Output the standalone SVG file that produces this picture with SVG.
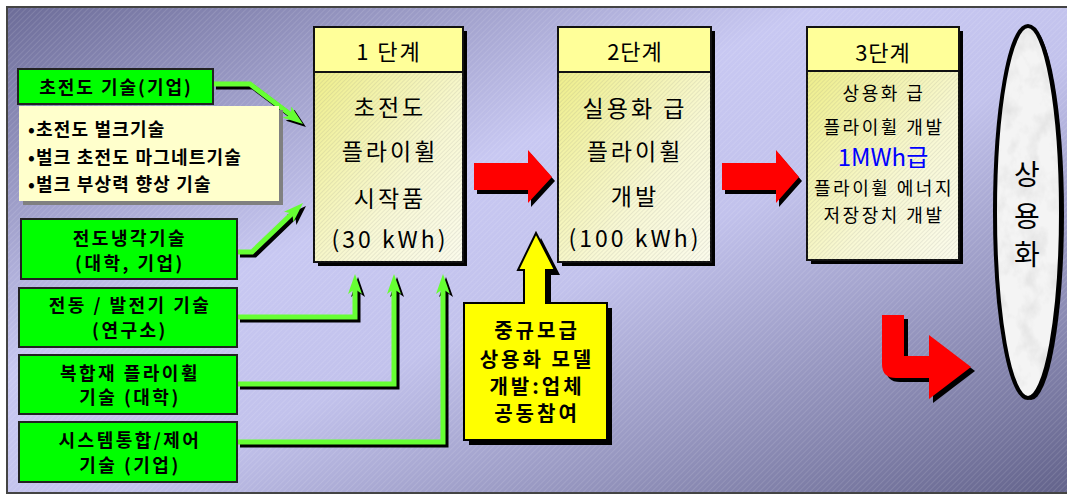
<svg xmlns="http://www.w3.org/2000/svg" width="1067" height="495" viewBox="0 0 1067 495">
<style>
text{font-family:"Noto Sans CJK KR","Noto Sans",sans-serif;fill:#000;text-anchor:middle}
.g{fill:#00ff00;stroke:#222;stroke-width:2}
.gt{font-size:18px;font-weight:bold;letter-spacing:2.5px}
.hd{fill:#ffff99;stroke:#111;stroke-width:2}
.bd{stroke:#111;stroke-width:2}
.sh{fill:#000}
.st{font-size:23px;letter-spacing:3px}
.s3{font-size:18px;letter-spacing:2.5px}
.bl{font-size:18px;font-weight:bold;letter-spacing:1.2px;text-anchor:start}
.yt{font-size:20px;font-weight:bold;letter-spacing:3px}
.cg{fill:none;stroke:#66ff33;stroke-width:5}
.ck{fill:none;stroke:#000;stroke-width:5}
.red{fill:#ff0000}
</style>
<defs>
<linearGradient id="bg" x1="0" y1="0" x2="1" y2="1">
<stop offset="0" stop-color="#6c6c98"/>
<stop offset="0.38" stop-color="#c8c8f2"/>
<stop offset="0.55" stop-color="#c2c2ec"/>
<stop offset="1" stop-color="#62628a"/>
</linearGradient>
<pattern id="stripe" width="4" height="4" patternUnits="userSpaceOnUse" patternTransform="rotate(45)">
<line x1="0" y1="0" x2="0" y2="4" stroke="#fff" stroke-width="1" opacity="0.22"/>
</pattern>
<linearGradient id="body" x1="0" y1="0" x2="1" y2="1">
<stop offset="0" stop-color="#eeee8a"/>
<stop offset="0.6" stop-color="#f8f8d4"/>
<stop offset="1" stop-color="#fbfbec"/>
</linearGradient>
<pattern id="hatch" width="3" height="3" patternUnits="userSpaceOnUse" patternTransform="rotate(45)">
<line x1="0" y1="0" x2="0" y2="3" stroke="#777" stroke-width="0.8" opacity="0.35"/>
</pattern>
<filter id="marble" x="0" y="0" width="1" height="1">
<feTurbulence type="fractalNoise" baseFrequency="0.05 0.035" numOctaves="4" seed="7" result="n"/>
<feColorMatrix in="n" type="matrix" values="0 0 0 0 0.65  0 0 0 0 0.65  0 0 0 0 0.65  1.4 0 0 0 -0.62"/>
<feComposite in2="SourceGraphic" operator="in"/>
</filter>
<marker id="ahG" viewBox="0 0 20 14" markerWidth="20" markerHeight="14" refX="6" refY="7" orient="auto" markerUnits="userSpaceOnUse">
<path d="M0,0 L20,7 L0,14 L5,7 Z" fill="#66ff33"/>
</marker>
<marker id="ahK" viewBox="0 0 20 14" markerWidth="20" markerHeight="14" refX="6" refY="7" orient="auto" markerUnits="userSpaceOnUse">
<path d="M0,0 L20,7 L0,14 L5,7 Z" fill="#000"/>
</marker>
</defs>

<g id="background">
<rect x="7" y="7" width="1070" height="486" fill="url(#bg)"/>
<rect x="7" y="7" width="1070" height="486" fill="url(#stripe)"/>
<rect x="7" y="7" width="1070" height="486" fill="none" stroke="#444" stroke-width="2"/>
</g>

<g id="connectors">
<g transform="translate(3,3)">
<path class="ck" d="M213,84 H250 L291.8,115.6" marker-end="url(#ahK)"/>
<path class="ck" d="M237,252 H252 L292.9,212.7" marker-end="url(#ahK)"/>
<path class="ck" d="M237,317 H355 V288" marker-end="url(#ahK)"/>
<path class="ck" d="M237,384 H394 V288" marker-end="url(#ahK)"/>
<path class="ck" d="M237,442 H443 V288" marker-end="url(#ahK)"/>
</g>
<path class="cg" d="M213,84 H250 L291.8,115.6" marker-end="url(#ahG)"/>
<path class="cg" d="M237,252 H252 L292.9,212.7" marker-end="url(#ahG)"/>
<path class="cg" d="M237,317 H355 V288" marker-end="url(#ahG)"/>
<path class="cg" d="M237,384 H394 V288" marker-end="url(#ahG)"/>
<path class="cg" d="M237,442 H443 V288" marker-end="url(#ahG)"/>
</g>

<g id="tech-superconductor">
<rect class="g" x="18" y="69" width="195" height="35"/>
<text x="116" y="94" style="font-size:18px;font-weight:bold;letter-spacing:2px">초전도 기술(기업)</text>
</g>

<g id="tech-details">
<rect x="23" y="110" width="260" height="95" fill="#808080"/>
<rect x="19" y="106" width="260" height="95" fill="#ffffcc"/>
<text class="bl" x="28" y="136">•초전도 벌크기술</text>
<text class="bl" x="28" y="164">•벌크 초전도 마그네트기술</text>
<text class="bl" x="28" y="191">•벌크 부상력 향상 기술</text>
</g>

<g id="tech-cooling">
<rect class="g" x="21" y="219" width="216" height="60"/>
<text class="gt" x="130" y="245">전도냉각기술</text>
<text class="gt" x="130" y="270">(대학, 기업)</text>
</g>

<g id="tech-motor">
<rect class="g" x="19" y="288" width="218" height="59"/>
<text class="gt" x="130" y="312">전동 / 발전기 기술</text>
<text class="gt" x="130" y="337">(연구소)</text>
</g>

<g id="tech-composite">
<rect class="g" x="19" y="355" width="218" height="59"/>
<text class="gt" x="130" y="380">복합재 플라이휠</text>
<text class="gt" x="130" y="404">기술 (대학)</text>
</g>

<g id="tech-system">
<rect class="g" x="19" y="422" width="218" height="60"/>
<text class="gt" x="130" y="447">시스템통합/제어</text>
<text class="gt" x="130" y="472">기술 (기업)</text>
</g>

<g id="stage1">
<rect class="sh" x="318" y="31" width="149" height="235"/>
<rect class="bd" x="314" y="72" width="149" height="190" fill="url(#body)"/>
<rect x="314" y="72" width="149" height="190" fill="url(#hatch)"/>
<rect class="hd" x="314" y="27" width="149" height="45"/>
<text x="389" y="60" style="font-size:22px;letter-spacing:2px">1 단계</text>
<text class="st" x="390" y="116">초전도</text>
<text class="st" x="390" y="160">플라이휠</text>
<text class="st" x="390" y="207">시작품</text>
<text class="st" x="390" y="248">(30 kWh)</text>
</g>

<g id="stage2">
<rect class="sh" x="562" y="31" width="153" height="235"/>
<rect class="bd" x="558" y="72" width="153" height="190" fill="url(#body)"/>
<rect x="558" y="72" width="153" height="190" fill="url(#hatch)"/>
<rect class="hd" x="558" y="27" width="153" height="45"/>
<text x="635" y="60" style="font-size:22px;letter-spacing:1px">2단계</text>
<text class="st" x="635" y="117">실용화 급</text>
<text class="st" x="635" y="160">플라이휠</text>
<text class="st" x="635" y="205">개발</text>
<text class="st" x="635" y="247">(100 kWh)</text>
</g>

<g id="stage3">
<rect class="sh" x="811" y="31" width="152" height="233"/>
<rect class="bd" x="807" y="71" width="152" height="189" fill="url(#body)"/>
<rect x="807" y="71" width="152" height="189" fill="url(#hatch)"/>
<rect class="hd" x="807" y="27" width="152" height="44"/>
<text x="883" y="61" style="font-size:22px;letter-spacing:1px">3단계</text>
<text class="s3" x="884" y="100">상용화 급</text>
<text class="s3" x="884" y="134">플라이휠 개발</text>
<text x="883" y="166" style="font-size:24px;fill:#0000ff">1MWh급</text>
<text class="s3" x="884" y="195">플라이휠 에너지</text>
<text class="s3" x="884" y="222">저장장치 개발</text>
</g>

<g id="arrow-1-2">
<path class="sh" transform="translate(3,4)" d="M474,163 H528 V150 L552,177 L528,203 V190 H474 Z"/>
<path class="red" d="M474,163 H528 V150 L552,177 L528,203 V190 H474 Z"/>
</g>

<g id="arrow-2-3">
<path class="sh" transform="translate(3,4)" d="M722,163 H776 V150 L799,177 L776,203 V190 H722 Z"/>
<path class="red" d="M722,163 H776 V150 L799,177 L776,203 V190 H722 Z"/>
</g>

<g id="mid-scale-model">
<path class="sh" transform="translate(5,5)" d="M464,303 H524 V270 H518 L536,233 L555,270 H546 V303 H607 V440 H464 Z"/>
<path d="M464,303 H524 V270 H518 L536,233 L555,270 H546 V303 H607 V440 H464 Z" fill="#ffff00" stroke="#000" stroke-width="2" stroke-linejoin="miter"/>
<text class="yt" x="537" y="338">중규모급</text>
<text class="yt" x="537" y="367">상용화 모델</text>
<text class="yt" x="537" y="394">개발:업체</text>
<text class="yt" x="537" y="421">공동참여</text>
</g>

<g id="arrow-3-commercial">
<path class="sh" transform="translate(4,4)" d="M882,315 H904 V356 H929 V335 L971,367 L929,399 V378 H896 Q882,378 882,364 Z"/>
<path class="red" d="M882,315 H904 V356 H929 V335 L971,367 L929,399 V378 H896 Q882,378 882,364 Z"/>
</g>

<g id="commercialization">
<ellipse cx="1031" cy="214" rx="33" ry="186" fill="#000"/>
<ellipse cx="1028" cy="212" rx="33" ry="186" fill="#f4f4f4"/>
<ellipse cx="1028" cy="212" rx="33" ry="186" fill="#fff" filter="url(#marble)"/>
<ellipse cx="1028" cy="212" rx="33" ry="186" fill="none" stroke="#000" stroke-width="4"/>
<text x="1027" y="185" style="font-size:28px">상</text>
<text x="1027" y="227" style="font-size:28px">용</text>
<text x="1027" y="265" style="font-size:28px">화</text>
</g>
</svg>
